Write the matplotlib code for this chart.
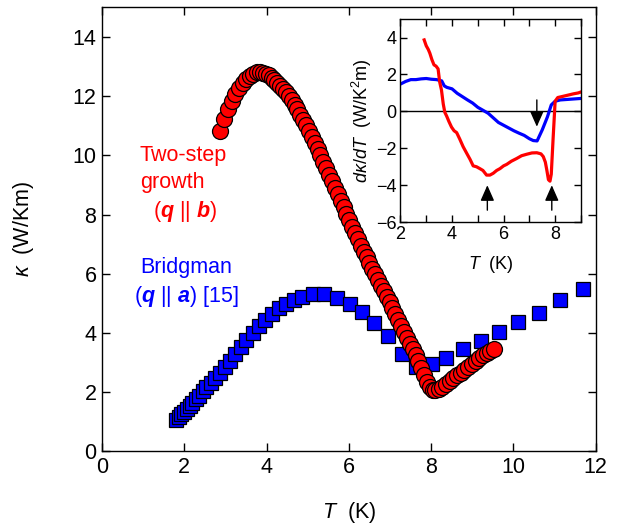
import matplotlib
matplotlib.use("Agg")
import matplotlib.pyplot as plt

# ------------------------------------
# DATA
# ------------------------------------
# two-step growth, q || b  (red circles)
T_red = [2.88, 2.97, 3.06, 3.15, 3.24, 3.33, 3.42, 3.51, 3.60, 3.68, 3.76, 3.84,
         3.91, 3.98, 4.05, 4.12, 4.19, 4.26, 4.33, 4.40, 4.47, 4.54, 4.61, 4.68,
         4.75, 4.82, 4.89, 4.96, 5.03, 5.10, 5.17, 5.24, 5.31, 5.38, 5.45, 5.52,
         5.59, 5.66, 5.73, 5.80, 5.87, 5.94, 6.01, 6.08, 6.15, 6.22, 6.29, 6.36,
         6.43, 6.50, 6.57, 6.64, 6.71, 6.78, 6.85, 6.92, 6.99, 7.06, 7.13, 7.20,
         7.27, 7.34, 7.41, 7.48, 7.55, 7.62, 7.69, 7.76, 7.83, 7.90, 7.97, 8.04,
         8.10, 8.18, 8.27, 8.36, 8.45, 8.54, 8.63, 8.72, 8.81, 8.90, 8.99, 9.08,
         9.17, 9.26, 9.35, 9.44, 9.52]
k_red = [10.82, 11.22, 11.55, 11.83, 12.06, 12.26, 12.43, 12.57, 12.68, 12.76, 12.81, 12.82,
         12.80, 12.76, 12.70, 12.63, 12.55, 12.46, 12.36, 12.25, 12.13, 12.00, 11.86, 11.71,
         11.55, 11.38, 11.20, 11.02, 10.83, 10.63, 10.42, 10.21, 10.00, 9.78, 9.56, 9.34,
         9.12, 8.90, 8.68, 8.46, 8.24, 8.02, 7.80, 7.58, 7.37, 7.16, 6.95, 6.75,
         6.55, 6.36, 6.17, 5.98, 5.79, 5.60, 5.41, 5.22, 5.03, 4.83, 4.63, 4.43,
         4.23, 4.03, 3.83, 3.64, 3.45, 3.25, 3.04, 2.81, 2.57, 2.34, 2.17, 2.08,
         2.06, 2.10, 2.18, 2.27, 2.36, 2.46, 2.56, 2.66, 2.76, 2.86, 2.96, 3.06,
         3.16, 3.25, 3.33, 3.40, 3.46]

# Bridgman, q || a  (blue squares)
T_blue = [1.81, 1.87, 1.93, 1.99, 2.06, 2.13, 2.20, 2.28, 2.36, 2.45, 2.54, 2.64,
          2.75, 2.86, 2.98, 3.10, 3.23, 3.37, 3.51, 3.66, 3.81, 3.97, 4.13, 4.30,
          4.48, 4.66, 4.85, 5.12, 5.40, 5.70, 6.02, 6.31, 6.61, 6.95, 7.28, 7.64,
          8.01, 8.36, 8.78, 9.21, 9.65, 10.11, 10.62, 11.12, 11.68]
k_blue = [1.07, 1.16, 1.25, 1.34, 1.44, 1.54, 1.64, 1.76, 1.88, 2.02, 2.16, 2.31,
          2.48, 2.66, 2.86, 3.06, 3.28, 3.52, 3.76, 4.00, 4.22, 4.44, 4.64, 4.83,
          4.99, 5.12, 5.22, 5.30, 5.30, 5.18, 4.99, 4.71, 4.34, 3.89, 3.27, 2.85,
          2.96, 3.16, 3.44, 3.73, 4.04, 4.37, 4.68, 5.11, 5.47]

# inset: d kappa / dT
T_dred = [2.92, 3.00, 3.08, 3.14, 3.22, 3.30, 3.38, 3.46, 3.52, 3.59, 3.66, 3.72,
          3.79, 3.88, 3.98, 4.08, 4.18, 4.30, 4.43, 4.57, 4.70, 4.82, 4.95, 5.08,
          5.20, 5.34, 5.47, 5.60, 5.73, 5.86, 6.00, 6.12, 6.30, 6.51, 6.70, 6.90,
          7.10, 7.29, 7.45, 7.54, 7.62, 7.68, 7.74, 7.80, 7.85, 7.92, 8.00, 8.10,
          8.32, 8.50, 8.71, 8.90, 9.04]
dk_red = [3.87, 3.55, 3.35, 3.15, 2.80, 2.52, 2.45, 2.30, 1.60, 1.16, 0.40, -0.05,
          -0.25, -0.55, -0.85, -1.05, -1.15, -1.50, -1.91, -2.27, -2.60, -2.95, -3.00, -3.10,
          -3.20, -3.45, -3.45, -3.35, -3.20, -3.10, -2.95, -2.87, -2.70, -2.55, -2.40, -2.32,
          -2.25, -2.24, -2.30, -2.45, -2.75, -3.20, -3.70, -3.78, -3.40, -1.50, 0.55, 0.75,
          0.82, 0.88, 0.95, 1.00, 1.07]

T_dblue = [2.00, 2.20, 2.40, 2.60, 2.80, 3.00, 3.20, 3.40, 3.60, 3.70, 3.80, 4.00,
           4.20, 4.40, 4.60, 4.80, 5.00, 5.20, 5.40, 5.60, 5.80, 6.00, 6.20, 6.40,
           6.60, 6.80, 7.00, 7.15, 7.30, 7.50, 7.70, 7.85, 8.00, 8.20, 8.50, 8.80, 9.00]
dk_blue = [1.48, 1.62, 1.72, 1.72, 1.76, 1.78, 1.74, 1.72, 1.65, 1.38, 1.30, 1.22,
           0.98, 0.80, 0.62, 0.45, 0.22, 0.06, -0.10, -0.35, -0.60, -0.75, -0.90, -1.05,
           -1.18, -1.30, -1.48, -1.58, -1.60, -1.00, -0.30, 0.35, 0.55, 0.62, 0.65, 0.68, 0.70]

# arrows in the inset: (T, tail, head)
arrows = [(7.29, 0.62, -0.83), (5.37, -5.35, -4.0), (7.87, -5.35, -4.0)]

RED = "#ff0000"
BLUE = "#0000ff"

# ------------------------------------
# STYLE
# ------------------------------------
plt.rcParams["font.family"] = "Liberation Sans"
plt.rcParams["mathtext.fontset"] = "custom"
plt.rcParams["mathtext.rm"] = "Liberation Sans"
plt.rcParams["mathtext.it"] = "Liberation Sans:italic"
plt.rcParams["mathtext.bf"] = "Liberation Sans:italic:bold"
plt.rcParams["axes.linewidth"] = 1.0

fig = plt.figure(figsize=(6.18, 5.29), dpi=100)

# ------------------------------------
# Main panel
# ------------------------------------
ax = fig.add_axes([0.165, 0.147, 0.799, 0.839])
ax.plot(T_blue, k_blue, "s", ms=9.5, mfc=BLUE, mec="black", mew=0.9, ls="none")
ax.plot(T_red, k_red, "o", ms=11.5, mfc=RED, mec="black", mew=0.9, ls="none")

ax.set_xlim(0, 12)
ax.set_ylim(0, 15)
ax.set_xticks(range(0, 13, 2))
ax.set_yticks(range(0, 15, 2))
ax.tick_params(direction="in", length=5.5, width=1.0, top=True, right=True,
               labelsize=15.5, pad=4)
ax.set_xlabel(r"$\mathit{T}$  (K)", fontsize=15.5, labelpad=16)
ax.set_ylabel(r"$\mathit{\kappa}$  (W/Km)", fontsize=15.5, labelpad=26)

# curve labels
ax.text(0.92, 9.8, "Two-step", color=RED, fontsize=15.5)
ax.text(0.92, 8.9, "growth", color=RED, fontsize=15.5)
ax.text(1.24, 7.9, r"($\mathbf{q}$ || $\mathbf{b}$)", color=RED, fontsize=15.5)
ax.text(2.05, 6.02, "Bridgman", color=BLUE, fontsize=15.5, ha="center")
ax.text(2.05, 5.05, r"($\mathbf{q}$ || $\mathbf{a}$) [15]", color=BLUE, fontsize=15.5,
        ha="center")

# ------------------------------------
# Inset
# ------------------------------------
ins = fig.add_axes([0.648, 0.580, 0.292, 0.384])
ins.axhline(0, color="black", lw=1.0)
ins.plot(T_dblue, dk_blue, color=BLUE, lw=2.3)
ins.plot(T_dred, dk_red, color=RED, lw=2.3)
for t, y0, y1 in arrows:
    ins.annotate("", xy=(t, y1), xytext=(t, y0),
                 arrowprops=dict(arrowstyle="-|>,head_length=0.95,head_width=0.42",
                                 mutation_scale=10, lw=1.0, color="black",
                                 shrinkA=0, shrinkB=0))

ins.set_xlim(2, 9)
ins.set_ylim(-6, 5)
ins.set_xticks([2, 4, 6, 8])
ins.set_xticks([3, 5, 7, 9], minor=True)
ins.set_yticks([-6, -4, -2, 0, 2, 4])
ins.tick_params(which="both", direction="in", length=5, width=1.0, top=True, right=True,
                labelsize=13, pad=3)
ins.set_xlabel(r"$\mathit{T}$  (K)", fontsize=13, labelpad=8)
ins.set_ylabel(r"$\mathit{d\kappa/dT}$  (W/K$^{2}$m)", fontsize=13, labelpad=1)

fig.savefig("out.png", dpi=100)
